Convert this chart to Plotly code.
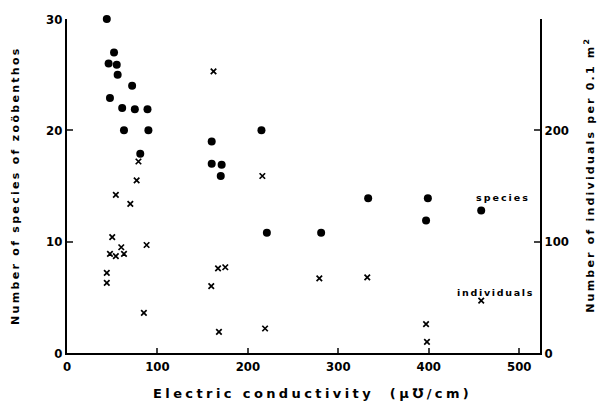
import plotly.graph_objects as go

# Species (left axis)
sp_x = [44, 52, 46, 55, 56, 72, 47.5, 61, 75, 89, 63, 90, 81, 160, 215, 160, 171, 170, 221, 281, 333, 399, 397, 458]
sp_y = [30, 27, 26, 25.9, 25, 24, 22.9, 22, 21.9, 21.9, 20, 20, 17.9, 19, 20, 17, 16.9, 15.9, 10.8, 10.8, 13.9, 13.9, 11.9, 12.8]

# Individuals (right axis)
ind_x = [162, 79, 77, 54, 216, 70, 50, 60, 47.5, 54, 63, 88, 44, 44, 85, 159.5, 167, 175, 168, 219, 279, 332, 458, 397, 398]
ind_y = [253, 172, 155, 142, 159, 134, 104, 95, 89, 87, 89, 97, 72, 63, 36, 60, 76, 77, 19, 22, 67, 68, 47, 26, 10]

x_ticks = [0, 100, 200, 300, 400, 500]
y_ticks = [0, 10, 20, 30]
y2_ticks = [0, 100, 200]

tickfont = dict(family="DejaVu Sans Condensed, Liberation Sans Narrow, sans-serif", size=13, color="black", weight="bold")
labfont = dict(family="DejaVu Sans, sans-serif", size=11, color="black", weight="bold")
smallfont = dict(family="DejaVu Sans, sans-serif", size=9.5, color="black", weight="bold")


def spaced(txt, px):
    return '<span style="letter-spacing:%spx">%s</span>' % (px, txt)


fig = go.Figure()
fig.add_trace(go.Scatter(x=sp_x, y=sp_y, mode="markers", cliponaxis=False,
                         marker=dict(symbol="circle", size=8, color="black"), showlegend=False))
fig.add_trace(go.Scatter(x=ind_x, y=ind_y, mode="markers", yaxis="y2", cliponaxis=False,
                         marker=dict(symbol="x-thin", size=5.5, color="black", line=dict(width=1.7, color="black")),
                         showlegend=False))

fig.update_layout(
    width=602, height=411,
    margin=dict(l=67, r=62, t=12, b=58),
    paper_bgcolor="white", plot_bgcolor="white",
    xaxis=dict(range=[0, 523], tickvals=x_ticks, ticks="inside", ticklen=5, tickwidth=1.5,
               showline=True, linecolor="black", linewidth=2, showgrid=False, zeroline=False,
               tickfont=tickfont),
    yaxis=dict(range=[0, 30], tickvals=y_ticks, ticks="inside", ticklen=6, tickwidth=1.5,
               showline=True, linecolor="black", linewidth=2, showgrid=False, zeroline=False,
               tickfont=tickfont),
    yaxis2=dict(range=[0, 300], tickvals=y2_ticks, overlaying="y", side="right", ticks="inside",
                ticklen=6, tickwidth=1.5, showline=True, linecolor="black", linewidth=2,
                showgrid=False, zeroline=False, tickfont=tickfont),
    annotations=[
        dict(text=spaced("Electric conductivity  (μ℧/cm)", 3.4),
             xref="paper", yref="paper", x=0.52, y=-0.12, xanchor="center", yanchor="middle",
             showarrow=False, font=dict(family="DejaVu Sans, sans-serif", size=13, color="black", weight="bold")),
        dict(text=spaced("Number of species of zoöbenthos", 2.3),
             xref="paper", yref="paper", x=-0.108, y=0.503, xanchor="center", yanchor="middle",
             textangle=-90, showarrow=False, font=labfont),
        dict(text=spaced("Number of individuals per 0.1 m<sup>2</sup>", 2.2),
             xref="paper", yref="paper", x=1.106, y=0.534, xanchor="center", yanchor="middle",
             textangle=-90, showarrow=False, font=labfont),
        dict(text=spaced("species", 2), xref="x", yref="y", x=482, y=14.0, showarrow=False, font=smallfont),
        dict(text=spaced("individuals", 1.7), xref="x", yref="y", x=474, y=5.4, showarrow=False, font=smallfont),
    ],
)

fig.write_html("out.html")
